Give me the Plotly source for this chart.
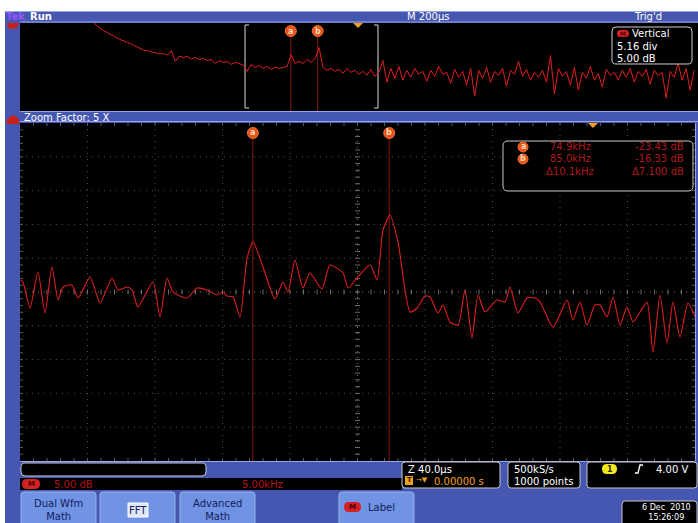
import plotly.graph_objects as go

W, H = 698, 523

# ---------------- data ----------------
# Zoomed FFT trace (frequency in kHz, magnitude in dB)
zoom_freq_khz = [57.70, 57.87, 58.39, 58.98, 59.50, 60.02, 60.47, 60.84, 61.50, 61.95,
                 62.84, 63.58, 64.47, 64.91, 65.58, 65.95, 66.39, 67.50, 68.02, 68.54,
                 68.98, 70.02, 70.76, 71.50, 72.24, 72.69, 72.98, 73.43, 73.95, 74.47,
                 74.91, 75.65, 76.54, 77.13, 77.50, 78.02, 78.61, 79.13, 80.02, 80.61,
                 81.58, 81.95, 82.61, 83.58, 84.10, 84.54, 85.06, 85.65, 86.54, 87.06,
                 87.65, 88.02, 88.61, 88.98, 89.50, 90.10, 90.61, 91.13, 91.58, 92.10,
                 92.98, 93.58, 93.95, 94.54, 95.21, 95.80, 96.17, 97.13, 98.17, 98.61,
                 99.13, 99.65, 100.24, 100.61, 101.13, 101.58, 102.10, 102.61, 103.06, 103.58,
                 104.10, 104.54, 105.06, 105.58, 106.02, 106.54, 107.13, 107.65]
zoom_mag_db = [-33.44, -33.97, -40.81, -31.34, -42.13, -30.02, -38.71, -35.29, -34.76, -38.18,
               -32.65, -39.50, -32.92, -36.08, -35.29, -36.08, -40.55, -33.97, -43.18, -32.92,
               -36.60, -38.18, -35.55, -36.08, -37.39, -36.60, -37.65, -37.92, -43.18, -27.65,
               -23.44, -30.02, -38.44, -33.97, -36.60, -28.18, -35.55, -31.60, -35.81, -29.50,
               -31.60, -35.55, -32.92, -29.50, -33.44, -20.29, -16.34, -23.44, -41.87, -40.81,
               -37.65, -37.92, -42.13, -40.02, -44.50, -45.29, -36.08, -48.71, -37.39, -41.87,
               -38.71, -39.23, -35.29, -42.13, -38.18, -38.18, -39.23, -45.81, -38.71, -43.97,
               -39.23, -45.29, -40.02, -40.02, -43.18, -37.92, -45.29, -40.55, -44.50, -41.87,
               -39.23, -52.39, -37.39, -50.02, -39.23, -48.44, -39.50, -43.18]

# Full-span overview trace: FFT bins from 0 kHz, 1.5 kHz apart
overview_start_khz = 0.0
overview_bin_khz = 1.5
overview_mag_db = [12, 6, 3, 0, -2, -4.5, -6.5, -8.5, -10.5, -12,
                   -13.5, -15.5, -17, -19.5, -20, -21.5, -22, -23.5, -23, -24.5,
                   -20, -31, -25.5, -27, -26, -28.5, -27, -29, -28, -30,
                   -29, -33, -30, -32, -31, -34, -32, -33, -35, -41,
                   -34, -37, -35, -38, -36, -39, -36.5, -38, -37, -36,
                   -24, -33, -31, -33, -29, -32, -28, -17, -37, -40,
                   -38, -41, -39, -43, -38, -42, -40, -44, -41, -45,
                   -39, -46, -42, -30, -52, -38, -48, -36, -50, -40,
                   -47, -38, -44, -41, -51, -40, -46, -36, -44, -42,
                   -53, -39, -47, -41, -55, -38, -66, -40, -48, -37,
                   -52, -41, -45, -38, -56, -40, -44, -31, -46, -39,
                   -50, -42, -47, -40, -52, -25, -64, -38, -46, -41,
                   -55, -37, -60, -42, -48, -36, -50, -43, -57, -39,
                   -45, -42, -50, -40, -47, -38, -52, -41, -46, -39,
                   -54, -40, -45, -42, -68, -41, -47, -33, -50, -38,
                   -60, -40]
overview_freq_khz = [overview_start_khz + overview_bin_khz * i for i in range(len(overview_mag_db))]

cursor_labels = ["a", "b"]
cursor_freq_khz = [74.9, 85.0]
cursor_mag_db = [-23.43, -16.33]
cursor_freq_text = ["74.9kHz", "85.0kHz"]
cursor_db_text = ["-23.43 dB", "-16.33 dB"]
delta_freq_text = "\u039410.1kHz"
delta_db_text = "\u03947.100 dB"

zoom_range_khz = [57.65, 107.65]
overview_range_khz = [-26.92, 227.97]
db_range = [-81.08, 7.87]

# ---------------- helpers ----------------
def px(x):
    return x / W


def py(y):
    return 1 - y / H


shapes = []
ann = []
FONT = "DejaVu Sans"
BLUE = "#4557b0"
BLUE_LIGHT = "#98a4e6"
BTN = "#7093e4"


def rect(x0, y0, x1, y1, fill, line=None, lw=0, layer="below"):
    shapes.append(dict(type="rect", xref="paper", yref="paper",
                       x0=px(x0), x1=px(x1), y0=py(y1), y1=py(y0),
                       fillcolor=fill, line=dict(color=line or fill, width=lw), layer=layer))


def rrect(x0, y0, x1, y1, r, fill, line=None, lw=0, layer="below"):
    def P(x, y):
        return f"{px(x):.5f},{py(y):.5f}"
    path = (f"M{P(x0 + r, y0)} L{P(x1 - r, y0)} Q{P(x1, y0)} {P(x1, y0 + r)} "
            f"L{P(x1, y1 - r)} Q{P(x1, y1)} {P(x1 - r, y1)} L{P(x0 + r, y1)} "
            f"Q{P(x0, y1)} {P(x0, y1 - r)} L{P(x0, y0 + r)} Q{P(x0, y0)} {P(x0 + r, y0)} Z")
    shapes.append(dict(type="path", xref="paper", yref="paper", path=path,
                       fillcolor=fill, line=dict(color=line or fill, width=lw), layer=layer))


def hline(x0, x1, y, color, lw=1, dash="solid", layer="below"):
    shapes.append(dict(type="line", xref="paper", yref="paper", x0=px(x0), x1=px(x1),
                       y0=py(y), y1=py(y), line=dict(color=color, width=lw, dash=dash), layer=layer))


def vline(x, y0, y1, color, lw=1, dash="solid", layer="below"):
    shapes.append(dict(type="line", xref="paper", yref="paper", x0=px(x), x1=px(x),
                       y0=py(y0), y1=py(y1), line=dict(color=color, width=lw, dash=dash), layer=layer))


def text(x, y, s, color="white", size=10, anchor="left", bold=False, yanchor="middle"):
    if bold:
        s = "<b>" + s + "</b>"
    ann.append(dict(xref="paper", yref="paper", x=px(x), y=py(y), text=s, showarrow=False,
                    xanchor=anchor, yanchor=yanchor, font=dict(family=FONT, size=size, color=color)))


def poly(points, fill, layer="above"):
    path = "M" + " L".join(f"{px(x):.5f},{py(y):.5f}" for x, y in points) + " Z"
    shapes.append(dict(type="path", xref="paper", yref="paper", path=path,
                       fillcolor=fill, line=dict(color=fill, width=0), layer=layer))


# ---------------- frame ----------------
rect(5, 11, 698, 523, BLUE)
# top status bar
hline(5, 698, 11.5, BLUE_LIGHT)
hline(20, 698, 22, BLUE_LIGHT)
text(4, 16.5, "Tek", "#9a55ff", 10, bold=True)
text(28, 16.5, "Run", "white", 10, bold=True)
text(428, 16.5, "M 200\u00b5s", "white", 10, anchor="center")
text(648, 16.5, "Trig'd", "white", 10, anchor="center")

# overview window
rect(20, 23, 698, 111, "black")
hline(20, 698, 111.5, BLUE_LIGHT)
# zoom bracket
for bx, d in [(245, 4), (378, -4)]:
    vline(bx, 25, 108, "#b4b4b4", 1.2)
    hline(bx, bx + d, 25, "#b4b4b4", 1.2)
    hline(bx, bx + d, 108, "#b4b4b4", 1.2)
# trigger marker on overview
poly([(353, 23), (363, 23), (358, 28)], "#f0a020")
# math waveform flags on the left edge
poly([(7, 23), (19, 23), (17, 28), (9, 29)], "#c8201c")

# Vertical readout box
rrect(612, 27, 692, 64, 4, "black", "#d0d0d0", 1, layer="above")
rrect(617, 30, 629, 37, 3.5, "#d42020", layer="above")
text(623, 33.5, "M", "#5a0000", 6, anchor="center", bold=True)
text(630, 34, "Vertical", "white", 10)
text(615, 46, "5.16 div", "white", 10)
text(615, 58, "5.00 dB", "white", 10)

# zoom factor bar
text(22, 117, "Zoom Factor: 5 X", "white", 10)
hline(20, 698, 121.5, BLUE_LIGHT)
poly([(7, 124), (7, 119), (13, 115), (19, 119), (19, 124)], "#c8201c")

# main graticule
GX0, GX1, GY0, GY1 = 20, 695, 123, 461
rect(GX0, GY0, GX1, GY1, "black")
dx = (GX1 - GX0) / 10
dy = (GY1 - GY0) / 10
GRID = "#505050"
for k in range(1, 10):
    vline(GX0 + k * dx, GY0, GY1, GRID if k != 5 else "#707070", 1, "1px,5px")
    hline(GX0, GX1, GY0 + k * dy, GRID if k != 5 else "#707070", 1, "1px,5px")
cx = GX0 + 5 * dx
cy = GY0 + 5 * dy


def seg(x0, y0, x1, y1, color):
    shapes.append(dict(type="line", xref="paper", yref="paper", x0=px(x0), x1=px(x1),
                       y0=py(y0), y1=py(y1), line=dict(color=color, width=1), layer="below"))


for i in range(1, 50):
    x = GX0 + i * dx / 5
    seg(x, cy - 2.5, x, cy + 2.5, "#6a6a6a")
    seg(x, GY1 - 3, x, GY1, "#5a5a5a")
    seg(x, GY0, x, GY0 + 3, "#5a5a5a")
    y = GY0 + i * dy / 5
    seg(cx - 2.5, y, cx + 2.5, y, "#6a6a6a")
    seg(GX0, y, GX0 + 3, y, "#5a5a5a")
    seg(GX1 - 3, y, GX1, y, "#5a5a5a")
hline(GX0, GX1, GY1 + 0.5, BLUE_LIGHT)
vline(GX1 + 0.5, GY0, GY1, BLUE_LIGHT)
# trigger position marker in main window
poly([(588, 123), (598, 123), (593, 128)], "#f0a020")

# cursor lines (data positions)
for f in cursor_freq_khz:
    shapes.append(dict(type="line", xref="x", yref="paper", x0=f, x1=f, y0=py(GY1), y1=py(139),
                       line=dict(color="#8a1414", width=1), layer="below"))
    shapes.append(dict(type="line", xref="x2", yref="paper", x0=f, x1=f, y0=py(111), y1=py(37),
                       line=dict(color="#8a1414", width=1), layer="below"))
for lab, f in zip(cursor_labels, cursor_freq_khz):
    for xr, yy in [("x", 133), ("x2", 31)]:
        shapes.append(dict(type="circle", xref=xr, yref="paper", xsizemode="pixel", ysizemode="pixel",
                           xanchor=f, yanchor=py(yy), x0=-5.5, x1=5.5, y0=-5.5, y1=5.5,
                           fillcolor="#e8521c", line=dict(color="#f07030", width=1), layer="above"))
        ann.append(dict(xref=xr, yref="paper", x=f, y=py(yy), text="<b>" + lab + "</b>", showarrow=False,
                        xanchor="center", yanchor="middle", font=dict(family=FONT, size=8, color="#ffd8b0")))

# cursor readout box
rrect(503, 141, 693, 191, 5, "black", "#c8c8c8", 1, layer="above")
RED_TXT = "#b01818"
rows_y = [147, 159]
for lab, yy, ft, dbt in zip(cursor_labels, rows_y, cursor_freq_text, cursor_db_text):
    shapes.append(dict(type="circle", xref="paper", yref="paper", x0=px(518), x1=px(528),
                       y0=py(yy + 5), y1=py(yy - 5), fillcolor="#e8521c",
                       line=dict(color="#f07030", width=1), layer="above"))
    text(523, yy, "<b>" + lab + "</b>", "#ffd8b0", 8, anchor="center")
    text(570, yy, ft, RED_TXT, 10, anchor="center")
    text(686, yy, dbt, RED_TXT, 10, anchor="right")
text(570, 171, delta_freq_text, RED_TXT, 10, anchor="center")
text(686, 171, delta_db_text, RED_TXT, 10, anchor="right")

# ---------------- bottom area ----------------
rrect(21, 463, 206, 476, 4, "black", "#c8c8d8", 1)
rect(20, 478, 402, 490, "black")
rrect(22, 479, 40, 489, 5, "#d42020")
text(31, 484, "M", "#4a0000", 7, anchor="center", bold=True)
text(52, 484, "5.00 dB", "#b01010", 10)
text(240, 484, "5.00kHz", "#b01010", 10)

rrect(402, 462, 500, 488, 3, "black", "#c8c8c8", 1)
text(406, 469, "Z 40.0\u00b5s", "white", 10)
rect(405, 476, 413, 485, "#f0a020")
text(409, 480.5, "T", "#3a2000", 7, anchor="center", bold=True)
text(414, 480.5, "\u2192\u25bc", "#f0a020", 7)
text(432, 481, "0.00000 s", "#f0a020", 10)

rrect(508, 462, 580, 488, 3, "black", "#c8c8c8", 1)
text(512, 469, "500kS/s", "white", 10)
text(512, 481, "1000 points", "white", 10)

rrect(587, 462, 697, 488, 3, "black", "#c8c8c8", 1)
rrect(602, 464, 617, 474, 5, "#f4e81c")
text(609.5, 469, "1", "#303000", 8, anchor="center", bold=True)
shapes.append(dict(type="path", xref="paper", yref="paper",
                   path=f"M{px(635):.5f},{py(473):.5f} L{px(638):.5f},{py(473):.5f} L{px(640):.5f},{py(465):.5f} L{px(643):.5f},{py(465):.5f}",
                   line=dict(color="white", width=1.3), layer="above"))
text(690, 469, "4.00 V", "white", 10, anchor="right")

# soft-key buttons
buttons = [(21, 96, "Dual Wfm<br>Math"), (100, 175, ""), (180, 255, "Advanced<br>Math")]
for x0, x1, lab in buttons:
    rrect(x0, 492, x1, 530, 3, BTN, "#9ab4f0", 1)
    if lab:
        text((x0 + x1) / 2, 510, lab, "#13205a", 10, anchor="center")
rect(128, 503, 148, 517, "#dfe6f8", "#ffffff", 1)
text(138, 510, "FFT", "#13205a", 10, anchor="center")
rrect(339, 492, 414, 530, 3, BTN, "#9ab4f0", 1)
rrect(344, 502, 361, 512, 5, "#d42020")
text(352.5, 507, "M", "#4a0000", 7, anchor="center", bold=True)
text(366, 507, "Label", "#13205a", 10)

rrect(622, 501, 697, 530, 3, "black", "#c8c8c8", 1)
text(693, 501, "6 Dec  2010<br>15:26:09", "white", 8, anchor="right", yanchor="top")

# ---------------- traces ----------------
fig = go.Figure()
fig.add_trace(go.Scatter(x=zoom_freq_khz, y=zoom_mag_db, mode="lines",
                         line=dict(color="#e01e1e", width=1.1, shape="spline", smoothing=0.6),
                         xaxis="x", yaxis="y", hoverinfo="skip", showlegend=False))
fig.add_trace(go.Scatter(x=overview_freq_khz, y=overview_mag_db, mode="lines",
                         line=dict(color="#e01e1e", width=1), xaxis="x2", yaxis="y2",
                         hoverinfo="skip", showlegend=False))

fig.update_layout(
    width=W, height=H, margin=dict(l=0, r=0, t=0, b=0),
    paper_bgcolor="white", plot_bgcolor="rgba(0,0,0,0)",
    showlegend=False,
    xaxis=dict(domain=[px(GX0), px(GX1)], range=zoom_range_khz, visible=False, fixedrange=True),
    yaxis=dict(domain=[py(GY1), py(GY0)], range=db_range, visible=False, fixedrange=True),
    xaxis2=dict(domain=[px(20), 1.0], range=overview_range_khz, visible=False, fixedrange=True, anchor="y2"),
    yaxis2=dict(domain=[py(111), py(23)], range=db_range, visible=False, fixedrange=True, anchor="x2"),
    shapes=shapes, annotations=ann,
)
fig.write_html("out.html", config={"displayModeBar": False},
               post_script="document.body.style.margin='0';document.body.style.overflow='hidden';")
